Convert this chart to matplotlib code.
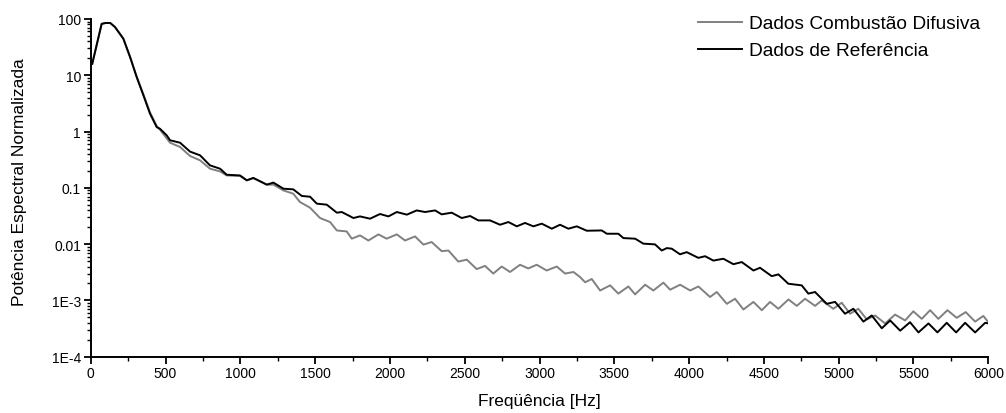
import matplotlib
matplotlib.use('Agg')
import matplotlib.pyplot as plt
from matplotlib.ticker import MultipleLocator, LogLocator, NullFormatter

plt.rcParams['font.family'] = ['Liberation Sans', 'DejaVu Sans']

# Dados de Referência (black)
freq_ref = [10, 73, 100, 130, 162, 218, 263, 307, 352, 396, 441, 463, 508, 530, 597, 664, 731, 797,
            864, 909, 998, 1043, 1087, 1177, 1221, 1288, 1354, 1411, 1466, 1511, 1578, 1645, 1678,
            1756, 1800, 1867, 1934, 1990, 2046, 2113, 2179, 2235, 2302, 2346, 2413, 2480, 2536, 2591,
            2669, 2736, 2792, 2848, 2903, 2959, 3015, 3082, 3137, 3193, 3249, 3316, 3416, 3450, 3527,
            3561, 3639, 3694, 3772, 3817, 3851, 3884, 3939, 3984, 4062, 4107, 4162, 4229, 4296, 4352,
            4430, 4474, 4552, 4597, 4663, 4753, 4797, 4842, 4920, 4976, 5042, 5098, 5165, 5221, 5288,
            5344, 5411, 5477, 5533, 5600, 5660, 5722, 5785, 5845, 5912, 5979, 6000]
pot_ref = [16, 82, 85, 85, 72, 44.7, 21.1, 9.3, 4.4, 2.08, 1.20, 1.12, 0.855, 0.70, 0.634, 0.44, 0.378, 0.251,
           0.219, 0.171, 0.166, 0.136, 0.150, 0.114, 0.124, 0.0966, 0.094, 0.0717, 0.0696, 0.0524, 0.0502, 0.0362, 0.0372,
           0.0291, 0.0311, 0.0283, 0.0343, 0.0311, 0.0372, 0.0334, 0.0397, 0.0372, 0.0397, 0.0338, 0.0362, 0.0291, 0.0316, 0.0264,
           0.0264, 0.0221, 0.0247, 0.0207, 0.0238, 0.0207, 0.0231, 0.0188, 0.0221, 0.0188, 0.0207, 0.0173, 0.0175, 0.0153, 0.0153,
           0.0128, 0.0125, 0.0102, 0.0099, 0.0077, 0.0085, 0.0083, 0.0066, 0.0072, 0.0057, 0.0061, 0.0051, 0.0055, 0.0044, 0.0048,
           0.0034, 0.0038, 0.0027, 0.0029, 0.00198, 0.00185, 0.00132, 0.00141, 0.00087, 0.00094, 0.00058, 0.00071, 0.00042, 0.00054, 0.00032,
           0.00044, 0.00029, 0.00041, 0.00027, 0.00039, 0.00027, 0.00040, 0.00027, 0.00040, 0.00027, 0.00040, 0.00039]

# Dados Combustão Difusiva (gray)
freq_comb = [10, 73, 100, 130, 162, 218, 263, 307, 352, 396, 441, 463, 530, 597, 664, 731, 797, 864,
             909, 998, 1043, 1087, 1177, 1221, 1288, 1354, 1398, 1466, 1533, 1600, 1645, 1711, 1745,
             1800, 1856, 1923, 1978, 2046, 2101, 2168, 2224, 2279, 2346, 2391, 2457, 2514, 2580, 2636,
             2691, 2747, 2803, 2870, 2925, 2981, 3048, 3115, 3171, 3227, 3271, 3305, 3349, 3405, 3472,
             3527, 3594, 3639, 3706, 3761, 3828, 3873, 3940, 4007, 4062, 4140, 4185, 4252, 4307, 4363,
             4430, 4486, 4541, 4597, 4664, 4720, 4775, 4842, 4887, 4964, 5020, 5076, 5131, 5188, 5243,
             5310, 5377, 5444, 5499, 5555, 5611, 5666, 5727, 5789, 5849, 5912, 5967, 6000]
pot_comb = [16, 82, 85, 85, 72, 44.7, 21.1, 9.5, 4.6, 2.2, 1.25, 1.08, 0.634, 0.532, 0.368, 0.308, 0.219, 0.196,
            0.166, 0.163, 0.136, 0.149, 0.114, 0.114, 0.090, 0.0787, 0.0561, 0.0444, 0.0291, 0.0247, 0.0175, 0.0168, 0.0125,
            0.0143, 0.0116, 0.0149, 0.0125, 0.0149, 0.0116, 0.0137, 0.0098, 0.0109, 0.0075, 0.0077, 0.0049, 0.0053, 0.0036, 0.0041,
            0.0030, 0.0040, 0.0032, 0.0043, 0.0037, 0.0043, 0.0034, 0.0040, 0.0030, 0.0032, 0.0026, 0.0021, 0.0024, 0.0015, 0.00185,
            0.00132, 0.00177, 0.00128, 0.0019, 0.0015, 0.00207, 0.00155, 0.0019, 0.0015, 0.00177, 0.00115, 0.00141, 0.00087, 0.00107, 0.00069,
            0.00094, 0.00067, 0.00094, 0.00071, 0.00104, 0.00080, 0.00107, 0.00080, 0.00100, 0.00071, 0.00091, 0.00058, 0.00071, 0.00046, 0.00054,
            0.00039, 0.00056, 0.00044, 0.00064, 0.00047, 0.00067, 0.00047, 0.00067, 0.00049, 0.00062, 0.00042, 0.00053, 0.00041]

yticks = [1e-4, 1e-3, 1e-2, 1e-1, 1, 10, 100]
ytick_labels = ['1E-4', '1E-3', '0.01', '0.1', '1', '10', '100']

fig = plt.figure(figsize=(10.06, 4.14), dpi=100)
ax = fig.add_axes([0.0902, 0.136, 0.8922, 0.8157])

ax.plot(freq_comb, pot_comb, color='#808080', lw=1.4, label='Dados Combustão Difusiva')
ax.plot(freq_ref, pot_ref, color='black', lw=1.4, label='Dados de Referência')

ax.set_yscale('log')
ax.set_xlim(0, 6000)
ax.set_ylim(1e-4, 100)
ax.set_yticks(yticks)
ax.set_yticklabels(ytick_labels)
ax.yaxis.set_minor_locator(LogLocator(base=10, subs=range(2, 10), numticks=20))
ax.yaxis.set_minor_formatter(NullFormatter())
ax.xaxis.set_major_locator(MultipleLocator(500))
ax.xaxis.set_minor_locator(MultipleLocator(250))

for s in ['top', 'right']:
    ax.spines[s].set_visible(False)
for s in ['left', 'bottom']:
    ax.spines[s].set_linewidth(1.4)
ax.tick_params(which='major', direction='out', length=5, width=1.3, labelsize=10, pad=2)
ax.tick_params(which='minor', direction='out', length=3, width=1.0)

ax.set_xlabel('Freqüência [Hz]', fontsize=12.5, labelpad=9)
ax.set_ylabel('Potência Espectral Normalizada', fontsize=12.5)
ax.yaxis.set_label_coords(-0.071, 0.519)

leg = ax.legend(loc='upper left', bbox_to_anchor=(698 / 1006, 1 - 16 / 414),
                bbox_transform=fig.transFigure, frameon=False, fontsize=13.8,
                handlelength=2.3, handletextpad=0.36, labelspacing=0.5, borderpad=0,
                borderaxespad=0)

fig.savefig('out.png', dpi=100)
